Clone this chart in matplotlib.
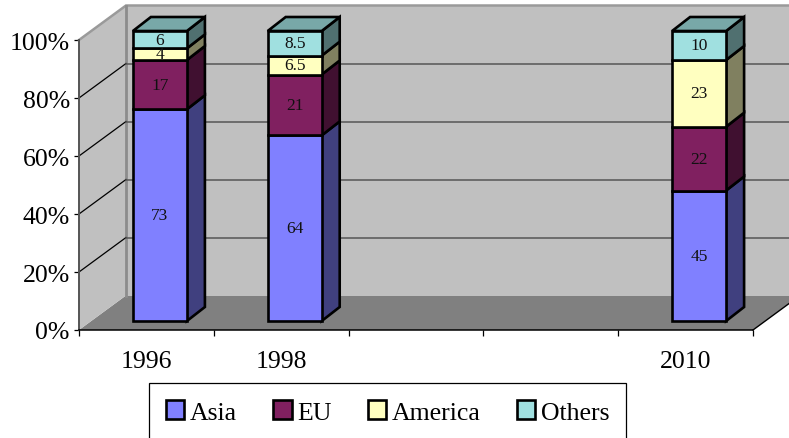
import matplotlib
matplotlib.use('Agg')
import matplotlib.pyplot as plt
from matplotlib.patches import Polygon, Patch

plt.rcParams['font.family'] = ['Liberation Serif', 'DejaVu Serif']

# Data
years = ['1996', '1998', '2010']
year_slots = [0, 1, 4]   # the axis has five categories, two of them unlabelled
n_slots = 5
asia = [73, 64, 45]
eu = [17, 21, 22]
america = [4, 6.5, 23]
others = [6, 8.5, 10]
series_names = ['Asia', 'EU', 'America', 'Others']
series_values = [asia, eu, america, others]
y_ticks = [0, 20, 40, 60, 80, 100]
y_labels = ['0%', '20%', '40%', '60%', '80%', '100%']

# Styles
front_colors = ['#8080FF', '#802060', '#FFFFC0', '#A0E0E0']
side_colors = ['#40407F', '#401030', '#808060', '#507070']
top_color = '#78A8A8'
wall_color = '#C0C0C0'
floor_color = '#808080'

W, H = 789, 439
left, bottom, right, top = 79, 331, 753, 41

fig = plt.figure(figsize=(W / 100, H / 100), dpi=100)
ax = fig.add_axes([left / W, (H - bottom) / H, (right - left) / W, (bottom - top) / H])
ax.set_xlim(0, n_slots)
ax.set_ylim(0, 100)
ax.patch.set_visible(False)

# pixel sizes converted to data units
px_x = n_slots / (right - left)
px_y = 100 / (bottom - top)
depth_x, depth_y = 47 * px_x, 34.5 * px_y     # depth of the whole box
shift_x, shift_y = 13.5 * px_x, 9 * px_y      # bar front relative to the front plane
side_x, side_y = 18 * px_x, 14 * px_y         # depth of a bar
bar_w = 54 * px_x


def poly(points, **kw):
    ax.add_patch(Polygon(points, closed=True, clip_on=False, **kw))


# Walls and floor
poly([(0, 0), (depth_x, depth_y), (n_slots + depth_x, depth_y), (n_slots, 0)],
     fc=floor_color, ec='none', zorder=1)
poly([(depth_x, depth_y), (depth_x, 100 + depth_y), (n_slots + depth_x, 100 + depth_y),
      (n_slots + depth_x, depth_y)], fc=wall_color, ec='none', zorder=1)
poly([(0, 0), (0, 100), (depth_x, 100 + depth_y), (depth_x, depth_y)],
     fc=wall_color, ec='none', zorder=1)

# Wall outlines
ax.plot([0, depth_x, n_slots + depth_x], [100, 100 + depth_y, 100 + depth_y],
        color='#9A9A9A', lw=1.8, clip_on=False, zorder=2, solid_joinstyle='miter')
ax.plot([depth_x, depth_x], [depth_y, 100 + depth_y], color='#8C8C8C', lw=2,
        clip_on=False, zorder=2)
ax.plot([n_slots, n_slots + depth_x], [0, depth_y], color='black', lw=1,
        clip_on=False, zorder=2)

# Gridlines
for t in y_ticks[1:-1]:
    ax.plot([0, depth_x], [t, t + depth_y], color='black', lw=0.9, clip_on=False, zorder=2)
    ax.plot([depth_x, n_slots + depth_x], [t + depth_y, t + depth_y], color='#555555',
            lw=1.1, clip_on=False, zorder=2)

# Bars
edge = dict(ec='black', lw=1.9, joinstyle='miter')
for i, slot in enumerate(year_slots):
    x0 = slot + 0.5 + shift_x - bar_w / 2
    x1 = x0 + bar_w
    base = 0
    for values, fc, sc in zip(series_values, front_colors, side_colors):
        v = values[i]
        y0 = base + shift_y
        y1 = y0 + v
        poly([(x1, y0), (x1 + side_x, y0 + side_y), (x1 + side_x, y1 + side_y), (x1, y1)],
             fc=sc, zorder=3, **edge)
        ax.bar(x0, v, bar_w, bottom=y0, align='edge', color=fc, edgecolor='black',
               linewidth=1.9, clip_on=False, zorder=4)
        ax.text((x0 + x1) / 2, (y0 + y1) / 2, f'{v:g}', ha='center', va='center',
                fontsize=12.5, color='#111111', zorder=5)
        base += v
    y_top = base + shift_y
    poly([(x0, y_top), (x1, y_top), (x1 + side_x, y_top + side_y), (x0 + side_x, y_top + side_y)],
         fc=top_color, zorder=3, **edge)

# Axes
for s in ['top', 'right']:
    ax.spines[s].set_visible(False)
ax.spines['left'].set_color('#555555')
ax.spines['left'].set_linewidth(1.4)
ax.spines['left'].set_zorder(3)
ax.spines['bottom'].set_linewidth(1.1)
ax.spines['bottom'].set_zorder(3)

ax.set_yticks(y_ticks)
ax.set_yticklabels(y_labels, fontsize=18.5)
ax.tick_params(axis='y', length=3.6, width=0.9, pad=3)

ax.set_xticks(range(n_slots + 1))
ax.set_xticklabels([])
ax.tick_params(axis='x', which='major', length=4.5, width=0.9)
ax.set_xticks([s + 0.5 for s in year_slots], labels=years, minor=True, fontsize=18.5)
ax.tick_params(axis='x', which='minor', length=0, pad=14.5)

# Legend
handles = [Patch(fc=c, ec='black', lw=1.9, label=n) for c, n in zip(front_colors, series_names)]
leg = fig.legend(handles=handles, loc='center', ncol=4,
                 bbox_to_anchor=(387.5 / W, (H - 413) / H), fontsize=18.5, frameon=True,
                 fancybox=False, edgecolor='black', framealpha=1, handlelength=0.72,
                 handleheight=0.72, handletextpad=0.2, columnspacing=1.42, borderpad=0.66,
                 borderaxespad=0)
leg.get_frame().set_linewidth(0.9)

fig.savefig('out.png', dpi=100, facecolor='white')
